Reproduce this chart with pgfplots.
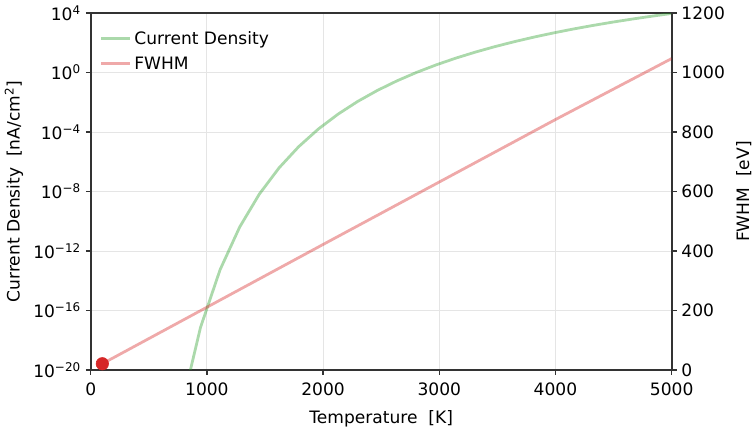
\documentclass[border=0pt]{standalone}
\usepackage{fontspec}
\setmainfont{DejaVu Sans}
\usepackage{pgfplots}
\pgfplotsset{compat=1.18}
\definecolor{tabgreen}{HTML}{2CA02C}
\definecolor{tabred}{HTML}{D62728}
\definecolor{spine}{HTML}{333333}
\newcommand{\fs}{\fontsize{12.3pt}{14.5pt}\selectfont}
\pgfplotsset{
  common/.style={
    width=418.3pt, height=257pt, scale only axis,
    xmin=0, xmax=5000,
    tick align=outside, major tick length=3.5pt,
    axis line style={spine, line width=1.3pt},
    tick style={spine, line width=1pt},
    /pgf/number format/assume math mode=true,
    /pgf/number format/1000 sep={},
    tick label style={font=\fs},
    label style={font=\fs},
  }
}
\begin{document}
\begin{tikzpicture}[font=\fs]
\begin{axis}[common, name=ax,
  ymode=log, ymin=1e-20, ymax=1e4,
  xtick={0,1000,2000,3000,4000,5000},
  ytick={1e-20,1e-16,1e-12,1e-8,1e-4,1,1e4},
  yticklabels={10\textsuperscript{−20},10\textsuperscript{−16},10\textsuperscript{−12},10\textsuperscript{−8},10\textsuperscript{−4},10\textsuperscript{0},10\textsuperscript{4}},
  minor ytick={}, yminorticks=false,
  xtick pos=bottom, ytick pos=left,
  xticklabel style={yshift=-2.5pt},
  grid=major, major grid style={black!10, line width=0.6pt},
  xlabel={Temperature~~[K]},
  ylabel={Current Density~~[nA/cm\textsuperscript{2}]},
  xlabel style={at={(axis description cs:0.5,-0.136)}, anchor=center},
  ylabel style={at={(axis description cs:-0.132,0.5)}, anchor=center},
  legend cell align=left,
  legend image code/.code={\draw[#1] (0pt,0pt) -- (21pt,0pt);},
  legend style={draw=none, fill=none, at={(axis description cs:0.0150,0.958)}, anchor=north west,
    inner sep=0pt, row sep=3.5pt, font=\fs},
]
\addplot[tabgreen, draw opacity=0.4, line width=2pt] coordinates {
(775.86,1.932e-23)
(944.83,7.161e-18)
(1113.79,5.572e-14)
(1282.76,4.169e-11)
(1451.72,6.761e-9)
(1620.69,3.855e-7)
(1789.66,1.028e-5)
(1958.62,1.574e-4)
(2127.59,1.570e-3)
(2296.55,1.125e-2)
(2465.52,6.166e-2)
(2634.48,2.729e-1)
(2803.45,1.014)
(2972.41,3.258)
(3141.38,9.247)
(3310.34,23.66)
(3479.31,55.46)
(3648.28,120.2)
(3817.24,243.8)
(3986.21,466.7)
(4155.17,849.2)
(4324.14,1476)
(4493.10,2460)
(4662.07,3963)
(4831.03,6180)
(5000,9376)
};
\addlegendentry{Current Density}
\addlegendimage{tabred, draw opacity=0.4, line width=2pt}
\addlegendentry{FWHM}
\end{axis}
\begin{axis}[common,
  ymin=0, ymax=1200,
  axis x line=none, axis y line*=right,
  ytick={0,200,400,600,800,1000,1200},
  ylabel={FWHM~~[eV]},
  ylabel style={at={(axis description cs:1.124,0.5)}, anchor=center, rotate=0},
]
\addplot[tabred, draw opacity=0.4, line width=2pt] coordinates {
(100,21) (1000,211) (2000,422) (3000,632) (4000,842) (5000,1047)
};
\addplot[only marks, mark=*, mark size=4.5pt, tabred, mark options={draw=tabred, fill=tabred}] coordinates {(100,21)};
\end{axis}
\pgfresetboundingbox
\path[use as bounding box] (ax.south west) ++(-65.3pt,-43.2pt) rectangle ++(544.32pt,309.6pt);
\end{tikzpicture}
\end{document}
